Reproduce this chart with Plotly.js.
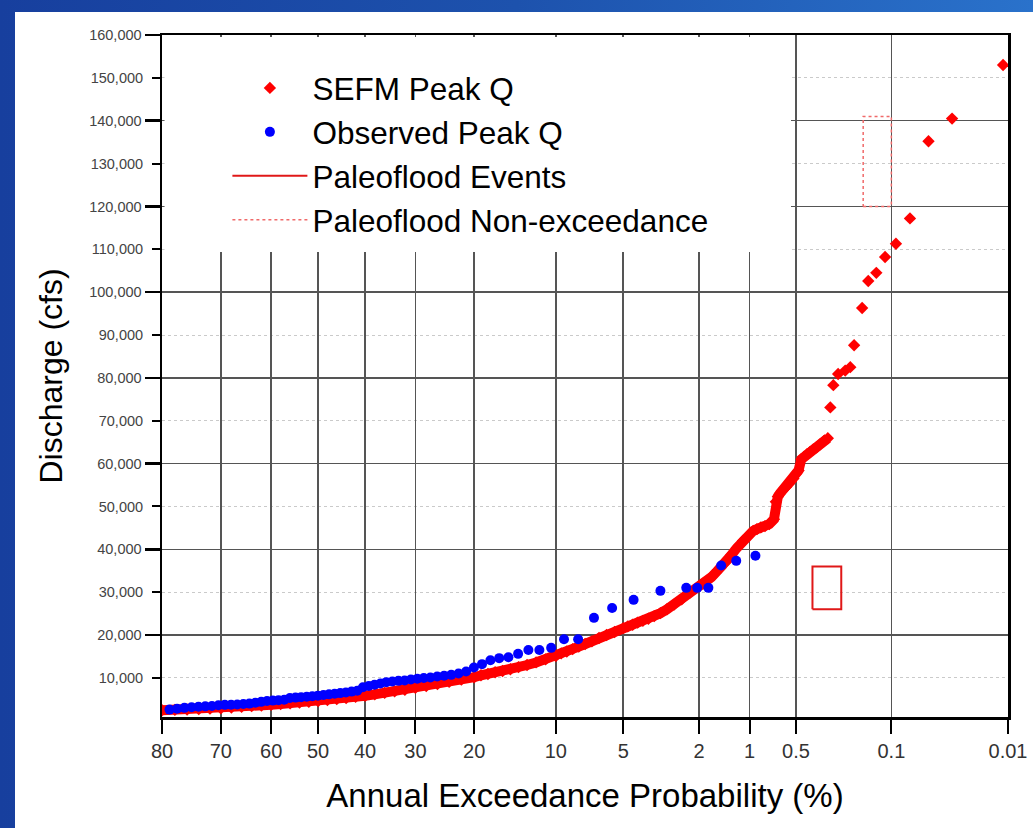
<!DOCTYPE html>
<html>
<head>
<meta charset="utf-8">
<script src="https://cdn.plot.ly/plotly-3.0.1.min.js"></script>
<style>
  html, body { margin: 0; padding: 0; width: 1033px; height: 828px; overflow: hidden;
    background: linear-gradient(90deg, #173f9e 0%, #1d52ad 50%, #2a72cb 100%); }
  #chart { position: absolute; left: 15px; top: 12px; width: 1018px; height: 816px; background: #fff; }
</style>
</head>
<body>
<div id="chart"></div>
<script>
// ---------------- data ----------------
// Annual exceedance probability (%) and discharge (cfs)
const sefmP = [80,78,76,74,72,70,68,66,64,62,60,58,56,54,52,50,48,46,44,42,40,38,36,34,32,30,28,26,24,22,20,
  19,18,17,16,15,14,13,12,11,10,
  9.5,9,8.5,8,7.5,7,6.5,6,5.5,5,
  4.75,4.5,4.25,4,3.75,3.5,3.25,3,2.75,2.5,2.25,2,
  1.9,1.8,1.7,1.6,1.5,1.4,1.3,1.2,1.1,1.0,
  0.95,0.9,0.85,0.8,0.75,0.7,0.68,0.66,0.64,0.62,0.6,0.58,0.56,0.54,0.52,0.5,0.48,0.46,0.44,0.42,0.4,0.38,0.36,0.34,0.32,0.3,
  0.288,0.274,0.253,0.2245,0.206,0.193,0.168,0.151,0.131,0.112,0.092,0.071,0.050,0.0316,0.0111];
const sefmQ = [2450,2540,2620,2700,2810,2900,3060,3240,3400,3560,3700,3880,4040,4230,4410,4600,4840,5050,5290,5570,5830,6160,6500,6850,7240,7670,8100,8570,9070,9590,10150,
  10600,10900,11300,11600,12000,12500,13000,13600,14300,15100,
  15700,16150,16700,17300,17900,18500,19300,20000,20700,21600,
  22000,22400,22900,23300,23800,24400,25100,26000,27100,28300,29900,31400,
  32000,32700,33500,34600,35700,37000,38600,40300,42000,43500,
  44300,44700,45100,45400,45900,47000,51100,52300,53000,53600,54100,54600,55200,55800,56500,57600,58400,61000,61600,62200,62700,63300,63800,64500,65200,65900,
  73100,78300,80900,81700,82500,87600,96300,102600,104500,108200,111300,117200,135200,140500,153000];

const obsP = [0.92,1.21,1.49,1.77,2.05,2.36,3.25,4.45,5.65,6.85,8.05,9.25,10.45,11.65,12.85,14.05,15.25,16.45,17.65,18.85,
  20.05,21.25,22.45,23.65,24.85,26.05,27.25,28.45,29.65,30.85,32.05,33.25,34.45,35.65,36.85,38.05,39.25,40.45,41.65,42.85,
  44.05,45.25,46.45,47.65,48.85,50.05,51.25,52.45,53.65,54.85,56.05,57.25,58.45,59.65,60.85,62.05,63.25,64.45,65.65,66.85,
  68.05,69.25,70.45,71.65,72.85,74.05,75.25,76.45,77.65,78.85];
const obsQ = [38500,37300,36200,31000,31000,31000,30300,28200,26300,24000,19000,19000,17000,16500,16500,15600,14800,14600,14100,13200,
  12400,11500,11000,10700,10500,10300,10100,9950,9800,9600,9400,9300,9150,9000,8700,8400,8100,7800,7000,6800,
  6600,6450,6300,6150,6000,5850,5700,5600,5500,5400,5300,4900,4800,4700,4600,4400,4200,4000,3900,3800,
  3750,3700,3600,3450,3350,3250,3150,3000,2800,2600];

// Paleoflood boxes: probability bounds (%) and discharge bounds (cfs)
const paleoEventP = [0.385, 0.24];
const paleoEventQ = [26000, 36000];
const paleoNonExP = [0.165, 0.1];
const paleoNonExQ = [120000, 141000];

// Axis ticks
const xTickP = [80,70,60,50,40,30,20,10,5,2,1,0.5,0.1,0.01];
const xTickLabels = ['80','70','60','50','40','30','20','10','5','2','1','0.5','0.1','0.01'];
const yRange = [870, 160000];
const yOddTicks = [10000,30000,50000,70000,90000,110000,130000,150000];

// ---------------- normal probability scale ----------------
function normInv(p) {
  const a=[-3.969683028665376e+01,2.209460984245205e+02,-2.759285104469687e+02,1.383577518672690e+02,-3.066479806614716e+01,2.506628277459239e+00];
  const b=[-5.447609879822406e+01,1.615858368580409e+02,-1.556989798598866e+02,6.680131188771972e+01,-1.328068155288572e+01];
  const c=[-7.784894002430293e-03,-3.223964580411365e-01,-2.400758277161838e+00,-2.549732539343734e+00,4.374664141464968e+00,2.938163982698783e+00];
  const d=[7.784695709041462e-03,3.224671290700398e-01,2.445134137142996e+00,3.754408661907416e+00];
  const pl = 0.02425, ph = 1 - pl;
  let q, r;
  if (p < pl) { q = Math.sqrt(-2*Math.log(p)); return (((((c[0]*q+c[1])*q+c[2])*q+c[3])*q+c[4])*q+c[5])/((((d[0]*q+d[1])*q+d[2])*q+d[3])*q+1); }
  if (p <= ph) { q = p - 0.5; r = q*q; return (((((a[0]*r+a[1])*r+a[2])*r+a[3])*r+a[4])*r+a[5])*q/(((((b[0]*r+b[1])*r+b[2])*r+b[3])*r+b[4])*r+1); }
  q = Math.sqrt(-2*Math.log(1-p)); return -(((((c[0]*q+c[1])*q+c[2])*q+c[3])*q+c[4])*q+c[5])/((((d[0]*q+d[1])*q+d[2])*q+d[3])*q+1);
}
const zOf = pct => -normInv(pct/100);   // exceedance % -> standard normal variate

function boxPath(pArr, qArr) {
  const x0 = zOf(pArr[0]), x1 = zOf(pArr[1]);
  return { x: [x0, x1, x1, x0, x0], y: [qArr[0], qArr[0], qArr[1], qArr[1], qArr[0]] };
}

const FONT = 'Liberation Sans, Arial, Helvetica, sans-serif';

// dense part of the SEFM curve (drawn as a band underneath the markers)
const denseIdx = sefmP.map((p, i) => i).filter(i => sefmP[i] >= 0.3);

const evBox = boxPath(paleoEventP, paleoEventQ);
const neBox = boxPath(paleoNonExP, paleoNonExQ);

const xRange = [zOf(xTickP[0]), zOf(xTickP[xTickP.length - 1])];
// white panel behind the legend, given as fractions of the plot area
const fx = f => xRange[0] + f * (xRange[1] - xRange[0]);
const fy = f => yRange[0] + f * (yRange[1] - yRange[0]);

const traces = [
  { type: 'scatter', mode: 'lines', showlegend: false, hoverinfo: 'skip',
    x: denseIdx.map(i => zOf(sefmP[i])), y: denseIdx.map(i => sefmQ[i]),
    line: { color: '#ff0000', width: 10 } },
  { type: 'scatter', mode: 'markers', name: 'SEFM Peak Q',
    x: sefmP.map(zOf), y: sefmQ,
    marker: { symbol: 'diamond', color: '#ff0000', size: 9.5 } },
  { type: 'scatter', mode: 'markers', name: 'Observed Peak Q',
    x: obsP.map(zOf), y: obsQ,
    marker: { symbol: 'circle', color: '#0000ff', size: 10 } },
  { type: 'scatter', mode: 'lines', name: 'Paleoflood Events', yaxis: 'y2',
    x: evBox.x, y: evBox.y, line: { color: '#e01818', width: 2 } },
  { type: 'scatter', mode: 'lines', name: 'Paleoflood Non-exceedance', yaxis: 'y2',
    x: neBox.x, y: neBox.y, line: { color: '#f06a6a', width: 1.5, dash: 'dot' } }
];

const layout = {
  width: 1018, height: 816,
  paper_bgcolor: '#ffffff', plot_bgcolor: '#ffffff',
  margin: { l: 147, r: 25, t: 23, b: 111 },
  font: { family: FONT, color: '#000' },
  showlegend: true,
  legend: {
    x: 0.0773, y: 0.962, xanchor: 'left', yanchor: 'top',
    bgcolor: 'rgba(0,0,0,0)', borderwidth: 0,
    font: { family: FONT, size: 31.5, color: '#000' },
    itemwidth: 75, tracegroupgap: 0
  },
  xaxis: {
    type: 'linear',
    range: xRange,
    tickmode: 'array', tickvals: xTickP.map(zOf), ticktext: xTickLabels,
    ticks: 'outside', ticklen: 14, tickwidth: 2, tickcolor: '#000',
    tickfont: { family: FONT, size: 20, color: '#333' },
    showgrid: true, gridcolor: '#555', gridwidth: 1.5,
    showline: true, linecolor: '#000', linewidth: 2.5, mirror: true,
    zeroline: false,
    title: { text: 'Annual Exceedance Probability (%)', font: { family: FONT, size: 33, color: '#000' }, standoff: 24 }
  },
  yaxis: {
    range: yRange, tick0: 0, dtick: 20000, tickformat: ',d',
    ticks: 'outside', ticklen: 15, tickwidth: 2.5, tickcolor: '#000',
    tickfont: { family: FONT, size: 14.5, color: '#444' },
    showgrid: true, gridcolor: '#555', gridwidth: 1.5,
    minor: { tick0: 0, dtick: 10000, ticks: 'outside', ticklen: 8, tickwidth: 2, tickcolor: '#000',
             showgrid: true, gridcolor: '#cacaca', gridwidth: 1, griddash: 'dot' },
    showline: true, linecolor: '#000', linewidth: 2.5, mirror: true,
    zeroline: false,
    title: { text: 'Discharge (cfs)', font: { family: FONT, size: 32, color: '#000' }, standoff: 17 }
  },
  yaxis2: {
    overlaying: 'y', side: 'left', anchor: 'x',
    range: yRange, tickmode: 'array', tickvals: yOddTicks,
    ticktext: yOddTicks.map(v => v.toLocaleString('en-US')),
    ticks: 'outside', ticklen: 15, tickcolor: 'rgba(0,0,0,0)',
    tickfont: { family: FONT, size: 14.5, color: '#444' },
    showgrid: false, showline: false, zeroline: false
  },
  shapes: [
    { type: 'rect', xref: 'x', yref: 'y', x0: fx(0.003), x1: fx(0.7435), y0: fy(0.682), y1: fy(0.997),
      fillcolor: '#ffffff', line: { width: 0 }, layer: 'between' }
  ]
};

Plotly.newPlot('chart', traces, layout, { displayModeBar: false, staticPlot: true });
</script>
</body>
</html>
